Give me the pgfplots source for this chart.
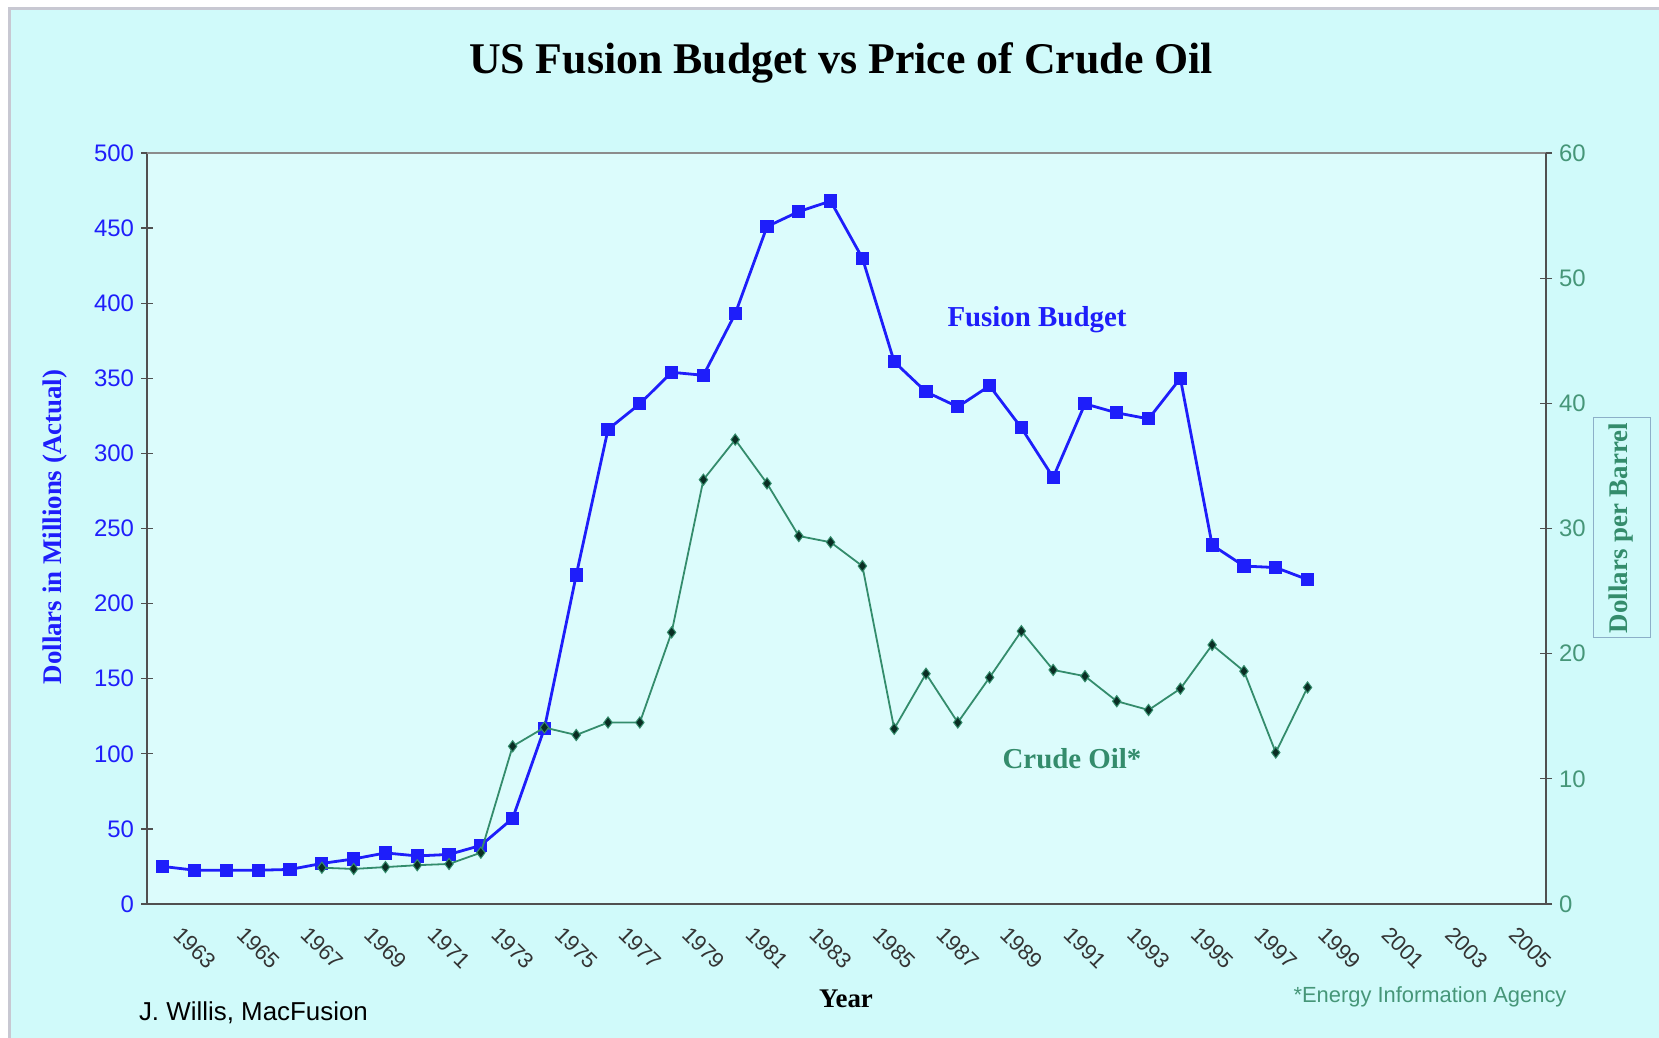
\documentclass[border=0pt]{standalone}
\usepackage{pgfplots}
\pgfplotsset{compat=1.18}
\usepackage{fontspec}
\setmainfont{Liberation Serif}
\setsansfont{Liberation Sans}
\definecolor{bgcyan}{RGB}{208,250,250}
\definecolor{plotbg}{RGB}{220,252,252}
\definecolor{fblue}{RGB}{30,30,250}
\definecolor{oilgreen}{RGB}{52,140,108}
\definecolor{oilfill}{RGB}{10,45,35}
\definecolor{lblgreen}{RGB}{70,150,120}
\definecolor{axgray}{RGB}{80,80,80}
\definecolor{framegray}{RGB}{200,200,210}
\definecolor{boxblue}{RGB}{140,175,200}

\begin{document}
\begin{tikzpicture}
\useasboundingbox (-73.5bp,-67bp) rectangle (756bp,452bp);
\fill[white] (-73.5bp,-67bp) rectangle (756bp,452bp);
\fill[bgcyan] (-68.5bp,-67bp) rectangle (756bp,447.5bp);
\draw[framegray, line width=1.5bp] (-68.5bp,-67bp) -- (-68.5bp,447.5bp) -- (756bp,447.5bp);

\begin{axis}[
  at={(0,0)}, anchor=south west,
  width=699.5bp, height=375.5bp, scale only axis,
  xmin=1961.5, xmax=2005.5, ymin=0, ymax=500,
  axis x line*=bottom, axis y line*=left,
  axis line style={axgray, line width=0.9bp},
  axis background/.style={fill=plotbg},
  xtick={1963,1965,1967,1969,1971,1973,1975,1977,1979,1981,1983,1985,1987,1989,1991,1993,1995,1997,1999,2001,2003,2005},
  xticklabels={1963,1965,1967,1969,1971,1973,1975,1977,1979,1981,1983,1985,1987,1989,1991,1993,1995,1997,1999,2001,2003,2005},
  xtick style={draw=none},
  minor xtick={1962.5,1963.5,...,2004.5},
  ytick={0,50,...,500},
  tick align=center, major tick length=6bp, minor tick length=6bp,
  tick style={axgray, line width=0.6bp},
  minor tick style={axgray, line width=0.6bp},
  /pgf/number format/assume math mode=true,
  yticklabel style={font=\sffamily\fontsize{12}{12}\selectfont, text=fblue},
  xticklabel style={font=\sffamily\fontsize{11}{11}\selectfont, text=black!80, yshift=-19bp, rotate=-45, anchor=center},
]
\addplot[fblue, line width=1.4bp, mark=square*, mark size=2.6bp, mark options={fill=fblue, draw=fblue}] coordinates {
(1962,25) (1963,22.5) (1964,22.5) (1965,22.5) (1966,23) (1967,27) (1968,30) (1969,34) (1970,32) (1971,33)
(1972,39) (1973,57) (1974,117) (1975,219) (1976,316) (1977,333) (1978,354) (1979,352) (1980,393) (1981,451)
(1982,461) (1983,468) (1984,430) (1985,361) (1986,341) (1987,331) (1988,345) (1989,317) (1990,284) (1991,333)
(1992,327) (1993,323) (1994,350) (1995,239) (1996,225) (1997,224) (1998,216)
};
\end{axis}

\begin{axis}[
  at={(0,0)}, anchor=south west,
  width=699.5bp, height=375.5bp, scale only axis,
  xmin=1961.5, xmax=2005.5, ymin=0, ymax=60,
  axis x line*=top, axis y line*=right,
  xtick=\empty,
  x axis line style={black!45, line width=1.4bp},
  y axis line style={axgray, line width=0.9bp},
  ytick={0,10,...,60},
  tick align=center, major tick length=6bp,
  tick style={axgray, line width=0.6bp},
  /pgf/number format/assume math mode=true,
  yticklabel style={font=\sffamily\fontsize{12}{12}\selectfont, text=lblgreen},
]
\addplot[oilgreen, line width=0.9bp, mark=diamond*, mark size=2.8bp, mark options={fill=oilfill, draw=oilgreen, line width=0.5bp}] coordinates {
(1967,2.9) (1968,2.8) (1969,2.95) (1970,3.1) (1971,3.2) (1972,4.1) (1973,12.6) (1974,14.1) (1975,13.5) (1976,14.5)
(1977,14.5) (1978,21.7) (1979,33.9) (1980,37.1) (1981,33.6) (1982,29.4) (1983,28.9) (1984,27.0) (1985,14.0) (1986,18.4)
(1987,14.5) (1988,18.1) (1989,21.8) (1990,18.7) (1991,18.2) (1992,16.2) (1993,15.5) (1994,17.2) (1995,20.7) (1996,18.6)
(1997,12.1) (1998,17.3)
};
\end{axis}

\node[font=\bfseries\fontsize{22}{22}\selectfont] at (347bp,420.5bp) {US Fusion Budget vs Price of Crude Oil};
\node[rotate=90, text=fblue, font=\bfseries\fontsize{13.5}{13.5}\selectfont] at (-46bp,188.5bp) {Dollars in Millions (Actual)};
\node[rotate=90, draw=boxblue, line width=0.5bp, text=oilgreen, font=\bfseries\fontsize{13.5}{13.5}\selectfont, minimum width=110bp, minimum height=28.5bp, inner sep=0pt] at (737.25bp,188bp) {Dollars per Barrel};
\node[text=fblue, font=\bfseries\fontsize{14.5}{14.5}\selectfont] at (445bp,292bp) {Fusion Budget};
\node[text=oilgreen, font=\bfseries\fontsize{14.5}{14.5}\selectfont] at (462.5bp,72.5bp) {Crude Oil*};
\node[font=\bfseries\fontsize{13.5}{13.5}\selectfont] at (349.5bp,-47.5bp) {Year};
\node[anchor=west, font=\sffamily\fontsize{13}{13}\selectfont] at (-7.5bp,-54.5bp) {J. Willis, MacFusion};
\node[text=lblgreen, font=\sffamily\fontsize{11}{11}\selectfont] at (641.5bp,-46.5bp) {*Energy Information Agency};
\end{tikzpicture}
\end{document}
